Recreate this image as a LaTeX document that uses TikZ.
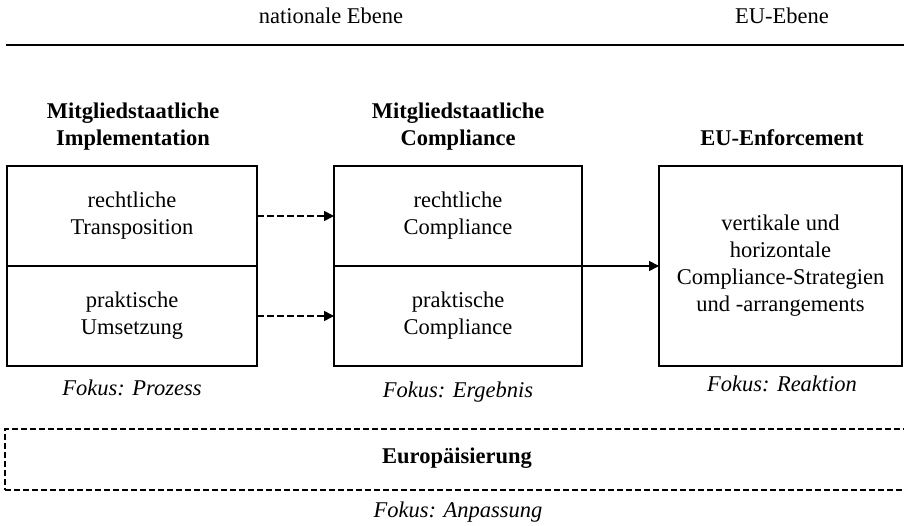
\documentclass[tikz,border=0pt]{standalone}
\usepackage{fontspec}
\setmainfont{Liberation Serif}
\usetikzlibrary{arrows.meta}
\tikzset{
  txt/.style={inner sep=0pt, align=center, font=\fontsize{22.5}{27}\selectfont},
  head/.style={txt, font=\fontsize{22.5}{27}\selectfont\bfseries},
  fokus/.style={txt, font=\fontsize{22.5}{27}\selectfont\itshape, anchor=base},
  cell/.style={draw, line width=1.6pt, outer sep=0pt, minimum width=250pt, minimum height=100pt, inner sep=0pt, align=center, font=\fontsize{22.5}{27}\selectfont},
  dasharrow/.style={line width=1.6pt, dash pattern=on 6.5pt off 3.5pt, -{Triangle[length=10pt,width=10pt]}},
  solidarrow/.style={line width=1.6pt, -{Triangle[length=10pt,width=10pt]}}
}
\begin{document}
\begin{tikzpicture}[x=1pt,y=-1pt]
\clip (0,0) rectangle (904,526);
\fill[white] (0,0) rectangle (904,526);

% top labels and rule
\node[txt, anchor=base] (nat) at (331,24) {nationale Ebene};
\node[txt, anchor=base] (eu) at (782,24) {EU-Ebene};
\coordinate (ruleL) at (6,45);
\coordinate (ruleR) at (910,45);
\draw[line width=2.4pt] (ruleL) -- (ruleR);

% headings
\node[head] (h1) at (133,127) {Mitgliedstaatliche\\Implementation};
\node[head] (h2) at (458,127) {Mitgliedstaatliche\\Compliance};
\node[head, anchor=base] (h3) at (782,146) {EU-Enforcement};

% boxes
\node[cell, minimum width=250pt] (b1t) at (132,216) {rechtliche\\Transposition};
\node[cell, minimum width=250pt] (b1b) at (132,316) {praktische\\Umsetzung};
\node[cell, minimum width=248pt] (b2t) at (458,216) {rechtliche\\Compliance};
\node[cell, minimum width=248pt] (b2b) at (458,316) {praktische\\Compliance};
\node[cell, minimum width=243pt, minimum height=200pt] (b3) at (780.5,266) {vertikale und\\horizontale\\Compliance-Strategien\\und -arrangements};

% arrows
\draw[dasharrow] (b1t.east) -- (b2t.west);
\draw[dasharrow] (b1b.east) -- (b2b.west);
\draw[solidarrow] (b2t.south east) -- (b3.west);

% focus labels
\node[fokus] (f1) at (132,395) {Fokus: Prozess};
\node[fokus] (f2) at (458,397) {Fokus: Ergebnis};
\node[fokus] (f3) at (782,391) {Fokus: Reaktion};

% Europeanisation box
\node[draw, line width=1.6pt, dash pattern=on 6pt off 3pt, minimum width=912pt, minimum height=61pt, inner sep=0pt] (eur) at (461,459.5) {};
\node[head, anchor=base] (eurtxt) at (457,463) {Europäisierung};
\node[fokus] (f4) at (458,517) {Fokus: Anpassung};
\end{tikzpicture}
\end{document}
